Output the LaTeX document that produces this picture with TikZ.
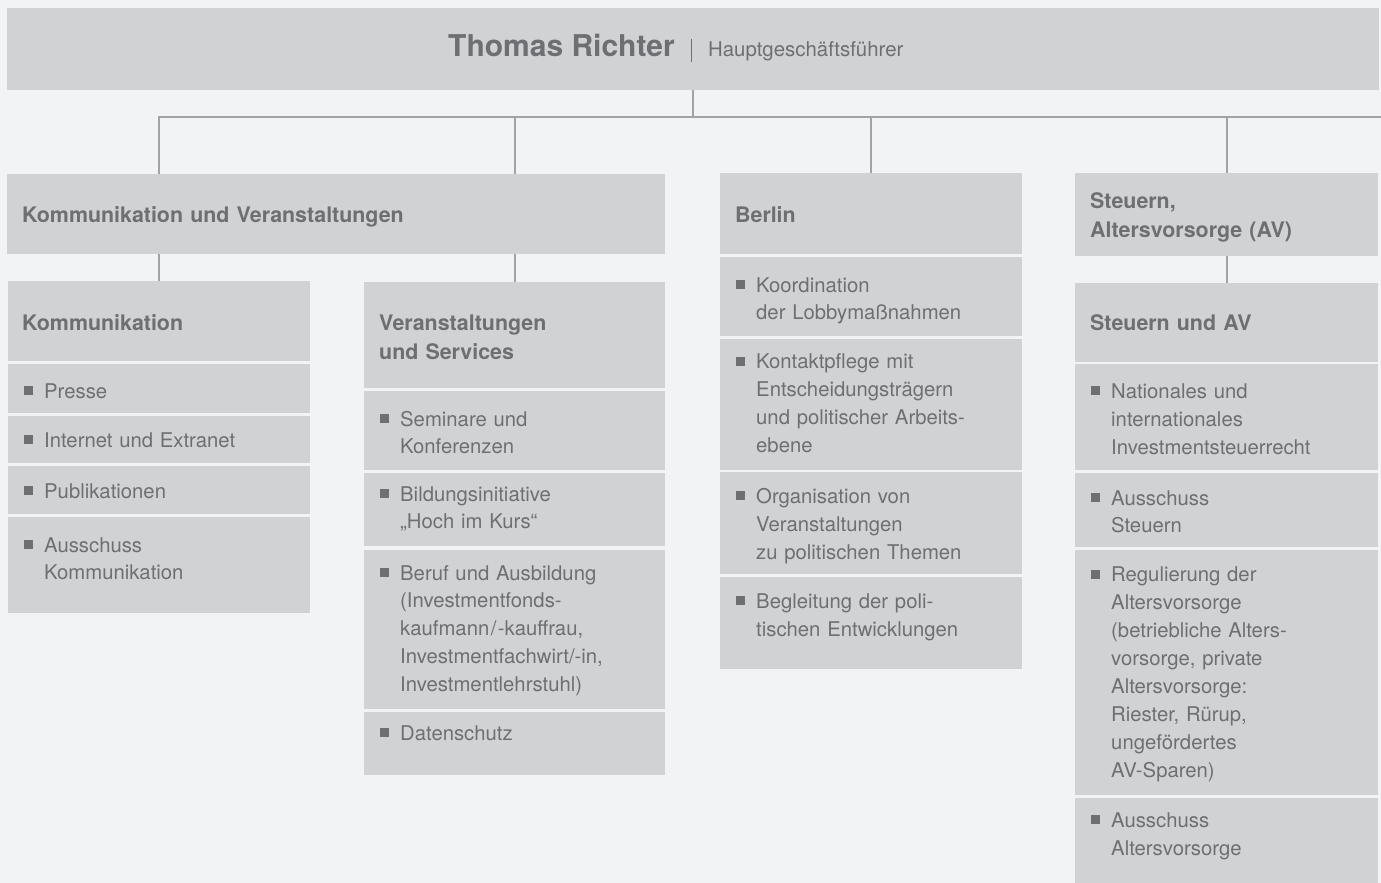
\documentclass[tikz,border=0pt]{standalone}
\usepackage{fontspec}
\setmainfont{TeX Gyre Heros}

\definecolor{hgrund}{HTML}{F2F3F5}
\definecolor{kasten}{HTML}{D1D2D4}
\definecolor{schrift}{HTML}{6E6F72}
\definecolor{linie}{HTML}{A2A3A5}

% Aufzaehlungspunkt vor der ersten Zeile
\newcommand{\sqbul}{\llap{\rule[3pt]{9.5pt}{9pt}\hspace{11pt}}}

\begin{document}
\begin{tikzpicture}[x=1pt,y=-1pt,
  box/.style={fill=kasten, inner sep=0pt, anchor=north west},
  kopf/.style={anchor=base west, inner sep=0pt, text width=270pt, align=left,
    text=schrift, font=\bfseries\fontsize{21.4}{29}\selectfont},
  punkt/.style={anchor=base west, inner sep=0pt, text width=250pt, align=left,
    text=schrift, font=\fontsize{20.3}{27.9}\selectfont},
  verbinder/.style={draw=linie, line width=2pt}]

\fill[hgrund] (0,0) rectangle (1381,883);
\useasboundingbox (0,0) rectangle (1381,883);

    % Geschaeftsfuehrung
\node[box, minimum width=1372, minimum height=82] (T) at (7,8) {};
\node[anchor=base west, inner sep=0pt, text=schrift] (Tt) at (448,57)
{{\bfseries\fontsize{30}{30}\selectfont Thomas Richter}\hspace{16pt}\rule[-4.7pt]{1.4pt}{22.4pt}\hspace{16pt}{\fontsize{20.4}{20}\selectfont Hauptgeschäftsführer}};

    % Bereiche
\node[box, minimum width=658, minimum height=80] (KV) at (7,174) {};
\node[kopf, text width=420pt] (KVt) at (22,222) {Kommunikation und Veranstaltungen};
\node[box, minimum width=302, minimum height=81] (B) at (720,173) {};
\node[kopf] (Bt) at (735,222.5) {Berlin};
\node[box, minimum width=303, minimum height=83] (S) at (1075,173) {};
\node[kopf] (St) at (1090,208.3) {Steuern,\\Altersvorsorge (AV)};

    % Abteilungen
\node[box, minimum width=302, minimum height=80] (K) at (8,281) {};
\node[kopf] (Kt) at (22,330) {Kommunikation};
\node[box, minimum width=301, minimum height=106] (V) at (364,282) {};
\node[kopf] (Vt) at (379,330) {Veranstaltungen\\und Services};
\node[box, minimum width=303, minimum height=79] (SA) at (1075,283) {};
\node[kopf] (SAt) at (1090,330) {Steuern und AV};

    % Kommunikation - Aufgaben
\node[box, minimum width=302, minimum height=49] (K1) at (8,364) {};
\node[punkt] (K1t) at (44,398) {\sqbul Presse};
\node[box, minimum width=302, minimum height=47] (K2) at (8,416) {};
\node[punkt] (K2t) at (44,447) {\sqbul Internet und Extranet};
\node[box, minimum width=302, minimum height=48] (K3) at (8,466) {};
\node[punkt] (K3t) at (44,498) {\sqbul Publikationen};
\node[box, minimum width=302, minimum height=96] (K4) at (8,517) {};
\node[punkt] (K4t) at (44,552) {\sqbul Ausschuss\\Kommunikation};

    % Veranstaltungen und Services - Aufgaben
\node[box, minimum width=301, minimum height=79] (V1) at (364,391) {};
\node[punkt] (V1t) at (400,426) {\sqbul Seminare und\\Konferenzen};
\node[box, minimum width=301, minimum height=73] (V2) at (364,473) {};
\node[punkt] (V2t) at (400,501) {\sqbul Bildungsinitiative\\„Hoch im Kurs“};
\node[box, minimum width=301, minimum height=159] (V3) at (364,550) {};
\node[punkt] (V3t) at (400,580) {\sqbul Beruf und Ausbildung\\(Investmentfonds-\\kaufmann\kern1.5pt/\kern1.5pt-kauffrau,\\Investmentfachwirt/-in,\\Investmentlehrstuhl)};
\node[box, minimum width=301, minimum height=63] (V4) at (364,712) {};
\node[punkt] (V4t) at (400,740) {\sqbul Datenschutz};

    % Berlin - Aufgaben
\node[box, minimum width=302, minimum height=79] (B1) at (720,257) {};
\node[punkt] (B1t) at (756,292) {\sqbul Koordination\\der Lobbymaßnahmen};
\node[box, minimum width=302, minimum height=131] (B2) at (720,338.5) {};
\node[punkt] (B2t) at (756,368.5) {\sqbul Kontaktpflege mit\\Entscheidungsträgern\\und politischer Arbeits-\\ebene};
\node[box, minimum width=302, minimum height=102] (B3) at (720,472) {};
\node[punkt] (B3t) at (756,503.3) {\sqbul Organisation von\\Veranstaltungen\\zu politischen Themen};
\node[box, minimum width=302, minimum height=92] (B4) at (720,577) {};
\node[punkt] (B4t) at (756,608.3) {\sqbul Begleitung der poli-\\tischen Entwicklungen};

    % Steuern und AV - Aufgaben
\node[box, minimum width=303, minimum height=105.5] (S1) at (1075,364) {};
\node[punkt] (S1t) at (1111,398.3) {\sqbul Nationales und\\internationales\\Investmentsteuerrecht};
\node[box, minimum width=303, minimum height=74.5] (S2) at (1075,472.5) {};
\node[punkt] (S2t) at (1111,505) {\sqbul Ausschuss\\Steuern};
\node[box, minimum width=303, minimum height=245] (S3) at (1075,550) {};
\node[punkt] (S3t) at (1111,581.7) {\sqbul Regulierung der\\Altersvorsorge\\(betriebliche Alters-\\vorsorge, private\\Altersvorsorge:\\Riester, Rürup,\\ungefördertes\\AV-Sparen)};
\node[box, minimum width=303, minimum height=85] (S4) at (1075,798) {};
\node[punkt] (S4t) at (1111,827.3) {\sqbul Ausschuss\\Altersvorsorge};

    % Verbindungslinien
\coordinate (bus) at (0,117);
\coordinate (busende) at (1381,117);
\draw[verbinder] (T.south) -- (T.south |- bus);
\draw[verbinder] (K.north |- KV.north) -- (K.north |- bus) -- (busende);
\draw[verbinder] (V.north |- bus) -- (V.north |- KV.north);
\draw[verbinder] (B.north |- bus) -- (B.north);
\draw[verbinder] (S.north |- bus) -- (S.north);
\draw[verbinder] (K.north |- KV.south) -- (K.north);
\draw[verbinder] (V.north |- KV.south) -- (V.north);
\draw[verbinder] (S.south) -- (SA.north);

\end{tikzpicture}
\end{document}
